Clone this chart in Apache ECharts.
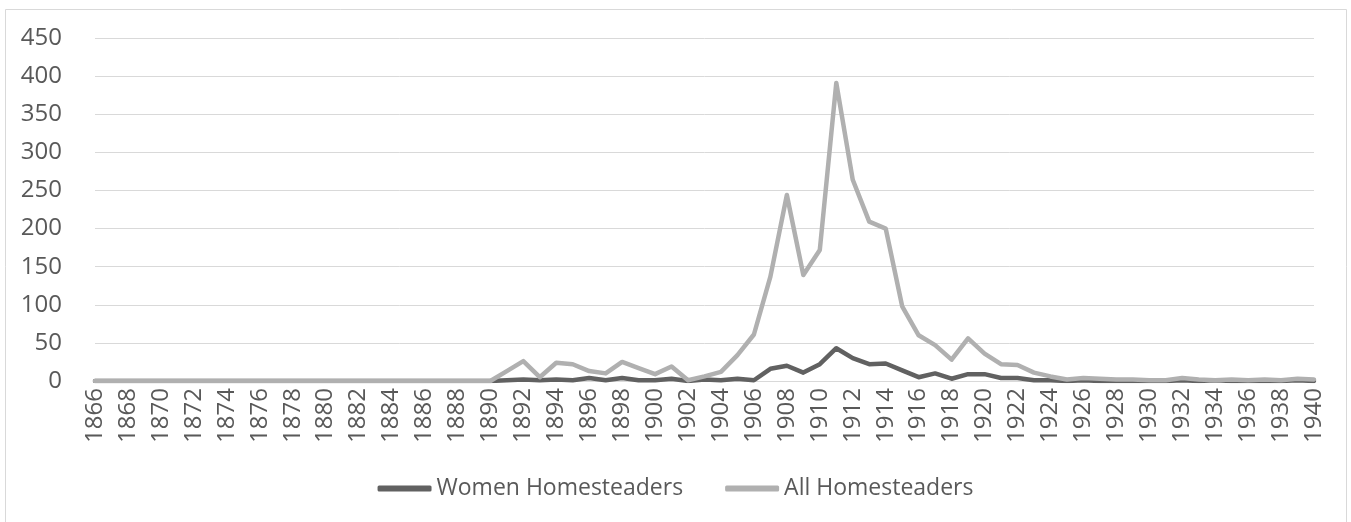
<!DOCTYPE html>
<html>
<head>
<meta charset="utf-8">
<style>
  html, body { margin: 0; padding: 0; background: #fff; }
  #chart { width: 1351px; height: 522px; }
</style>
<script src="https://cdn.jsdelivr.net/npm/echarts@6/dist/echarts.min.js"></script>
</head>
<body>
<div id="chart"></div>
<script>
'use strict';

// years on the category axis
const FIRST_YEAR = 1866;
const LAST_YEAR = 1940;
const years = [];
for (let y = FIRST_YEAR; y <= LAST_YEAR; y++) years.push(String(y));

// 1866-1889: nothing recorded
const zerosBefore1890 = [0, 0, 0, 0, 0, 0, 0, 0, 0, 0, 0, 0, 0, 0, 0, 0, 0, 0, 0, 0, 0, 0, 0, 0];

// 1890-1940
const women1890on = [0, 1, 2, 1, 2, 1, 4, 1, 4, 1, 1, 3, 0, 2, 1, 3, 1, 16, 20, 11, 22, 43, 30, 22, 23, 14,
  5, 10, 3, 9, 9, 4, 4, 1, 1, 0, 1, 0, 0, 0, 0, 0, 1, 0, 1, 0, 0, 0, 0, 1, 0];
const all1890on = [0, 13, 26, 5, 24, 22, 13, 10, 25, 17, 9, 19, 1, 6, 12, 34, 61, 137, 244, 139, 172, 391, 264, 209, 200, 98,
  60, 47, 28, 56, 36, 22, 21, 11, 6, 2, 4, 3, 2, 2, 1, 1, 4, 2, 1, 2, 1, 2, 1, 3, 2];

const womenHomesteaders = zerosBefore1890.concat(women1890on);
const allHomesteaders = zerosBefore1890.concat(all1890on);

const TEXT = '#595959';
const GRID_LINE = '#d9d9d9';
const FONT = '"Open Sans", sans-serif';

const chart = echarts.init(document.getElementById('chart'), null, { renderer: 'canvas' });

chart.setOption({
  animation: false,
  backgroundColor: '#fff',
  graphic: [{
    type: 'rect',
    shape: { x: 5.5, y: 9.5, width: 1341, height: 530 },
    style: { fill: 'none', stroke: GRID_LINE, lineWidth: 1 },
    silent: true
  }],
  grid: { left: 95, right: 37, top: 38, bottom: 141 },
  legend: {
    top: 472,
    left: 'center',
    icon: 'roundRect',
    itemWidth: 54,
    itemHeight: 6,
    itemGap: 42,
    textStyle: { color: TEXT, fontSize: 23, fontFamily: FONT },
    data: ['Women Homesteaders', 'All Homesteaders']
  },
  xAxis: {
    type: 'category',
    data: years,
    boundaryGap: false,
    axisLine: { lineStyle: { color: GRID_LINE, width: 1 } },
    axisTick: { show: false },
    axisLabel: {
      interval: 1,
      rotate: 90,
      margin: 7,
      color: TEXT,
      fontSize: 24,
      fontFamily: FONT
    },
    splitLine: { show: false }
  },
  yAxis: {
    type: 'value',
    min: 0,
    max: 450,
    interval: 50,
    axisLine: { show: false },
    axisTick: { show: false },
    axisLabel: { color: TEXT, fontSize: 24, fontFamily: FONT, margin: 33 },
    splitLine: { lineStyle: { color: GRID_LINE, width: 1 } }
  },
  series: [
    {
      name: 'Women Homesteaders',
      type: 'line',
      data: womenHomesteaders,
      showSymbol: false,
      symbol: 'none',
      color: '#616161',
      lineStyle: { width: 4.5, color: '#616161', cap: 'round', join: 'round' }
    },
    {
      name: 'All Homesteaders',
      type: 'line',
      data: allHomesteaders,
      showSymbol: false,
      symbol: 'none',
      color: '#b0b0b0',
      lineStyle: { width: 4.5, color: '#b0b0b0', cap: 'round', join: 'round' }
    }
  ]
});
</script>
</body>
</html>
